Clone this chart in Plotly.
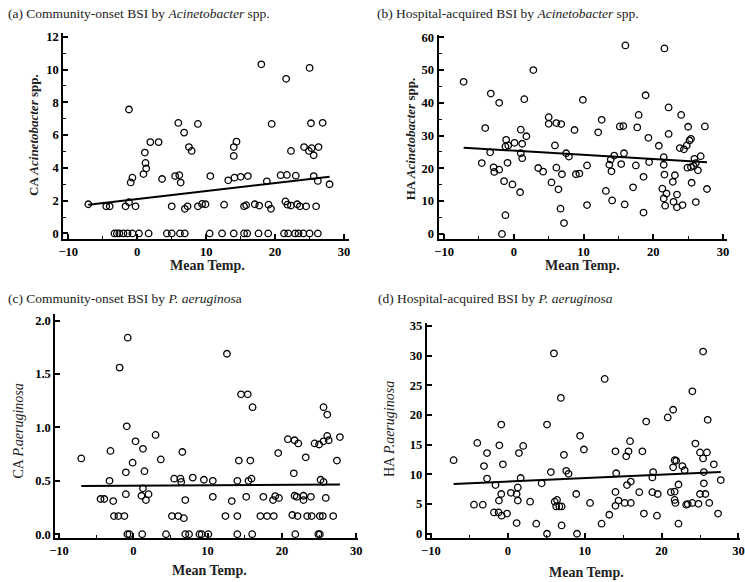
import plotly.graph_objects as go

# ---------------- DATA ----------------
# (a) Community-onset BSI by Acinetobacter spp.
a_temp = [-3.3, -2.95, -2.6, -2.0, -1.4, -0.7, 0.25, 1.65, 4.3, 5.0, 6.2, 6.9, 10.5, 12.3, 14.0, 15.5, 15.95,
          17.6, 19.0, 21.3, 21.9, 22.9, 23.4, 24.1, 25.0, 26.2,
          -7.1, -4.5, -4.0, -1.7, -1.2, -0.25, 5.0, 6.9, 7.3, 8.8, 9.4, 9.9, 12.6, 15.5, 15.8, 17.05, 17.7,
          19.05, 19.4, 21.5, 21.8, 22.3, 23.2, 23.6, 24.5, 25.95,
          6.8, 1.9, 3.1, 1.1, 1.2, 1.3, 0.9, -0.95, -0.7, 3.6, 5.5, 6.1, 6.3, 7.5, 7.9, 10.6, 13.2, 14.1, 14.0,
          14.0, 14.4, 15.0, 16.05, 18.8, 20.8, 21.7, 23.0, 22.3, 24.2, 24.9, 25.3, 25.6, 26.3, 25.6, 26.2, 27.9,
          -1.2, 5.96, 8.8, 18.0, 21.6, 25.0, 19.5, 25.2, 26.9]
a_val = [0] * 26 + \
        [1.78, 1.65, 1.65, 1.65, 1.9, 1.65, 1.65, 1.5, 1.65, 1.65, 1.8, 1.78, 1.75, 1.65, 1.72, 1.78, 1.7,
         1.75, 1.5, 1.95, 1.75, 1.7, 1.78, 1.65, 1.65, 1.65,
         6.15, 5.57, 5.57, 4.93, 4.3, 3.96, 3.62, 3.11, 3.4, 3.32, 3.5, 3.55, 3.1, 5.27, 5.03, 3.5, 3.24, 3.4, 4.73,
         5.27, 5.6, 3.45, 3.5, 3.18, 3.55, 3.57, 3.52, 5.03, 5.27, 5.03, 5.2, 4.77, 5.27, 3.5, 3.2, 3.0,
         7.56, 6.74, 6.68, 10.32, 9.43, 10.1, 6.68, 6.72, 6.75]
a_fit = [2.095, 0.0486]   # intercept, slope of the drawn regression line

# (b) Hospital-acquired BSI by Acinetobacter spp.
b_temp = [-7.2, -3.3, -2.1, -4.1, -3.4, -4.6, -2.9, -2.8, -2.1, -1.4, -0.9, -1.2, -1.1, -0.8, 0.1, -0.2, -1.2,
          -1.7, 0.9, 1.0, 1.2, 1.0, 1.2, 1.5, 1.8, 2.8, 3.5, 4.2, 5.0, 5.0, 5.4, 5.9, 6.1, 6.1, 6.4, 6.8, 6.9,
          6.7, 7.2, 7.5, 7.9, 8.7, 8.9, 9.4, 9.9, 10.5, 10.5, 12.1, 12.6, 13.2, 13.7, 13.9, 14.0, 14.1, 14.4,
          15.2, 15.4, 15.7, 15.8, 15.9, 16.0, 17.1, 17.5, 17.7, 17.9, 19.3, 19.4, 18.6, 18.6, 18.9, 20.8, 21.3,
          21.5, 21.5, 21.5, 21.6, 21.9, 21.7, 21.6, 22.2, 22.2, 22.8, 22.9, 23.1, 23.4, 23.4, 23.8, 24.0, 24.2,
          24.4, 24.9, 24.8, 25.0, 25.2, 25.4, 25.4, 25.5, 25.8, 25.9, 26.1, 26.1, 26.4, 26.8, 27.4, 27.7]
b_val = [46.4, 42.8, 40.0, 32.3, 24.9, 21.6, 20.3, 18.9, 19.6, 16.1, 21.7, 26.7, 28.7, 27.0, 27.8, 15.1, 5.7,
         0.0, 12.7, 31.8, 27.5, 24.6, 23.1, 41.1, 29.8, 50.0, 20.1, 19.0, 35.6, 33.6, 15.7, 27.0, 33.8, 20.2,
         13.6, 33.5, 18.2, 7.7, 3.3, 24.6, 23.6, 31.7, 18.2, 18.4, 40.9, 20.9, 8.8, 31.0, 34.8, 13.1, 21.1,
         22.7, 19.1, 10.2, 23.9, 32.8, 21.3, 32.9, 24.6, 9.0, 57.5, 14.2, 20.9, 32.5, 36.3, 29.3, 21.9, 17.4,
         6.5, 42.3, 26.9, 13.8, 23.4, 21.1, 10.8, 18.1, 12.3, 8.6, 56.6, 38.6, 30.5, 15.9, 9.8, 17.9, 12.0,
         8.1, 26.2, 36.3, 8.8, 25.8, 20.2, 27.0, 32.7, 28.5, 29.0, 20.4, 15.6, 20.7, 22.9, 21.6, 9.7, 19.4,
         23.7, 32.8, 13.7]
b_fit = [25.38, -0.128]

# (c) Community-onset BSI by P. aeruginosa
c_temp = [-0.79, -0.53, 1.2, 4.4, 7.0, 7.5, 8.9, 9.2, 10.1, 14.0, 16.0, 21.8, 24.9, 25.1,
          -2.6, -2.0, -1.2, 5.2, 6.05, 6.8, 12.4, 14.0, 17.1, 18.0, 18.9, 21.4, 22.1, 23.4, 24.0, 25.1, 25.5, 26.9,
          -4.4, -3.9, -2.7, -1.0, 1.1, 1.7, 2.05, 7.0, 10.7, 13.25, 15.2, 17.5, 18.8, 19.1, 19.6, 21.7, 22.0,
          22.9, 22.9, 23.9, 25.9, 1.3,
          -3.2, 5.5, 6.35, 6.45, 8.0, 9.5, 10.7, 14.0, 15.5, 15.9, 21.6, 25.2, 25.6,
          -7.0, -3.07, -0.88, 0.3, 1.3, -0.09, -1.0, 1.5, 3.0, 3.7, 6.6, 14.2, 15.75, 19.5, 20.8, 21.7, 22.2,
          23.2, 24.4, 25.0, 25.6, 26.1, 26.3, 27.8, 27.4,
          -0.75, -1.84, 12.6, 14.5, 15.4, 16.05, 25.6, 26.1]
c_val = [0] * 14 + \
        [0.17, 0.17, 0.17, 0.17, 0.17, 0.15, 0.17, 0.17, 0.17, 0.17, 0.17, 0.18, 0.17, 0.17, 0.17, 0.17, 0.17, 0.17,
         0.33, 0.33, 0.31, 0.375, 0.36, 0.32, 0.375, 0.32, 0.35, 0.31, 0.35, 0.35, 0.32, 0.357, 0.34, 0.36,
         0.35, 0.36, 0.32, 0.35, 0.34, 0.43,
         0.50, 0.52, 0.52, 0.49, 0.53, 0.51, 0.50, 0.50, 0.50, 0.52, 0.57, 0.51, 0.49,
         0.71, 0.78, 1.01, 0.87, 0.80, 0.67, 0.58, 0.59, 0.93, 0.70, 0.77, 0.69, 0.69, 0.76, 0.89, 0.88, 0.85,
         0.72, 0.85, 0.84, 0.87, 0.92, 0.88, 0.91, 0.69,
         1.84, 1.56, 1.69, 1.31, 1.31, 1.19, 1.19, 1.12]
c_fit = [0.4546, 0.00037]

# (d) Hospital-acquired BSI by P. aeruginosa
d_temp = [-7.05, -3.97, -2.7, -3.1, -2.7, -1.6, -4.4, -3.25, -1.8, -1.2, -0.8, -0.1, -1.1, -0.64, -0.85, -1.15,
          0.4, 1.15, 1.3, 1.3, 1.45, 1.67, 2.0, 1.15, 2.9, 3.7, 4.4, 5.1, 5.6, 6.1, 6.4, 6.3, 6.7, 7.0, 7.0,
          7.3, 7.6, 7.9, 8.9, 9.0, 9.4, 9.9, 10.7, 12.2, 13.2, 14.0, 14.0, 14.0, 14.1, 14.4, 15.4, 15.7, 15.9,
          15.5, 16.0, 15.2, 16.0, 17.1, 17.5, 17.7, 18.9, 18.8, 18.8, 19.5, 19.4, 22.2, 21.2, 21.7, 21.5, 21.7,
          21.9, 21.7, 21.8, 22.2, 22.7, 23.0, 23.2, 23.4, 24.0, 24.8, 24.4, 25.0, 25.4, 25.9, 25.5, 25.5, 25.0,
          25.7, 26.2, 26.8, 27.35, 27.7,
          6.0, 25.4, 12.6, 6.9, 24.0, 21.5, 20.8, 26.0, 18.0, -0.85, 5.1]
d_val = [12.4, 15.3, 13.6, 11.4, 9.3, 8.2, 4.9, 4.9, 3.6, 3.6, 3.05, 3.4, 14.9, 11.7, 6.7, 5.6,
         6.9, 6.7, 7.8, 5.6, 13.6, 9.4, 14.8, 1.8, 5.4, 1.7, 8.5, 0.0, 10.4, 5.4, 5.7, 4.6, 4.6, 4.6, 1.4,
         13.3, 10.6, 10.1, 6.7, 0.0, 16.5, 14.2, 5.2, 1.7, 3.2, 7.05, 4.7, 13.9, 10.2, 5.6, 13.05, 13.9, 15.6,
         8.2, 8.8, 5.2, 5.2, 7.0, 13.9, 3.4, 10.4, 9.5, 7.0, 6.7, 3.05, 1.7, 7.0, 7.1, 11.2, 12.4,
         12.3, 5.7, 5.2, 8.3, 11.4, 10.7, 4.9, 5.0, 5.2, 5.05, 15.2, 13.7, 12.7, 13.7, 10.4, 8.5, 6.7,
         6.7, 5.2, 11.7, 3.4, 9.05,
         30.4, 30.7, 26.1, 22.9, 24.0, 20.9, 19.6, 19.2, 18.9, 18.4, 18.4]
d_fit = [8.8, 0.0578]

titles = ["(a) Community-onset BSI by <i>Acinetobacter</i> spp.",
          "(b) Hospital-acquired BSI by <i>Acinetobacter</i> spp.",
          "(c) Community-onset BSI by <i>P. aeruginos</i>a",
          "(d) Hospital-acquired BSI by <i>P. aeruginosa</i>"]
y_titles = ["<b>CA <i>Acinetobacter</i> spp.</b>", "<b>HA <i>Acinetobacter</i> spp.</b>",
            "CA <i>P.aeruginosa</i>", "HA <i>P.aeruginosa</i>"]
y_title_sizes = [13, 13, 14, 14]
x_title = "<b>Mean Temp.</b>"

# ---------------- LAYOUT ----------------
W, H = 745, 582
SERIF = "Liberation Serif, Times New Roman, serif"

panels = [
    dict(px=(58, 348, 238, 29), xr=[-10.75, 30.7], yr=[-0.35, 12.25], dy=2, mdy=1, fmt=None,
         temp=a_temp, val=a_val, fit=a_fit,
         title=(0, 10), xt=(205, 265), yt=(28, 133)),
    dict(px=(439, 732, 238, 31), xr=[-10.8, 30.6], yr=[-1.6, 60.8], dy=10, mdy=5, fmt=None,
         temp=b_temp, val=b_val, fit=b_fit,
         title=(375, 10), xt=(585, 265), yt=(410, 137)),
    dict(px=(50, 357, 541, 314), xr=[-10.5, 30.2], yr=[-0.04, 2.06], dy=0.5, mdy=None, fmt=".1f",
         temp=c_temp, val=c_val, fit=c_fit,
         title=(0, 298), xt=(207, 573), yt=(13, 432)),
    dict(px=(427, 745, 541, 323), xr=[-10.55, 30.2], yr=[-0.8, 35.5], dy=5, mdy=None, fmt=None,
         temp=d_temp, val=d_val, fit=d_fit,
         title=(376, 298), xt=(589, 575), yt=(390, 430)),
]

fig = go.Figure()
annotations = []
tickfont = dict(family=SERIF, size=12.5, color="black", weight="bold")

for i, p in enumerate(panels, start=1):
    sfx = "" if i == 1 else str(i)
    x0, x1, yb, yt = p["px"]
    fig.add_trace(go.Scatter(
        x=p["temp"], y=p["val"], mode="markers", xaxis="x" + sfx, yaxis="y" + sfx,
        marker=dict(symbol="circle-open", size=6.5, color="black", line=dict(width=1.3, color="black")),
        showlegend=False, cliponaxis=False))
    lx = [min(p["temp"]), max(p["temp"])]
    ly = [p["fit"][0] + p["fit"][1] * v for v in lx]
    fig.add_trace(go.Scatter(
        x=lx, y=ly, mode="lines", xaxis="x" + sfx, yaxis="y" + sfx,
        line=dict(color="black", width=2), showlegend=False))

    xa = dict(domain=[x0 / W, min(x1 / W, 1)], range=p["xr"], anchor="y" + sfx,
              showgrid=False, zeroline=False, showline=True, linewidth=2, linecolor="black",
              ticks="inside", ticklen=5, tickwidth=1.5, tickcolor="black",
              tick0=0, dtick=10, tickfont=tickfont,
              minor=dict(ticks="inside", ticklen=3, tickwidth=1.2, tickcolor="black", dtick=5, tick0=0,
                         showgrid=False))
    ya = dict(domain=[1 - yb / H, 1 - yt / H], range=p["yr"], anchor="x" + sfx,
              showgrid=False, zeroline=False, showline=True, linewidth=2, linecolor="black",
              ticks="inside", ticklen=5, tickwidth=1.5, tickcolor="black",
              tick0=0, dtick=p["dy"], tickfont=tickfont)
    if p["fmt"]:
        ya["tickformat"] = p["fmt"]
    if p["mdy"]:
        ya["minor"] = dict(ticks="inside", ticklen=3, tickwidth=1.2, tickcolor="black",
                           dtick=p["mdy"], tick0=0, showgrid=False)
    fig.layout["xaxis" + sfx] = xa
    fig.layout["yaxis" + sfx] = ya

    tx, ty = p["title"]
    annotations.append(dict(text=titles[i - 1], x=tx / W, y=1 - ty / H, xref="paper", yref="paper",
                            xanchor="left", yanchor="middle", showarrow=False,
                            font=dict(family=SERIF, size=13.5, color="#222")))
    ax, ay = p["xt"]
    annotations.append(dict(text=x_title, x=ax / W, y=1 - ay / H, xref="paper", yref="paper",
                            xanchor="center", yanchor="middle", showarrow=False,
                            font=dict(family=SERIF, size=14, color="#222")))
    yx, yy = p["yt"]
    annotations.append(dict(text=y_titles[i - 1], x=yx / W, y=1 - yy / H, xref="paper", yref="paper",
                            xanchor="center", yanchor="middle", showarrow=False, textangle=-90,
                            font=dict(family=SERIF, size=y_title_sizes[i - 1], color="#222")))

fig.update_layout(width=W, height=H, margin=dict(l=0, r=0, t=0, b=0),
                  paper_bgcolor="white", plot_bgcolor="white", annotations=annotations)

fig.write_html("out.html")
